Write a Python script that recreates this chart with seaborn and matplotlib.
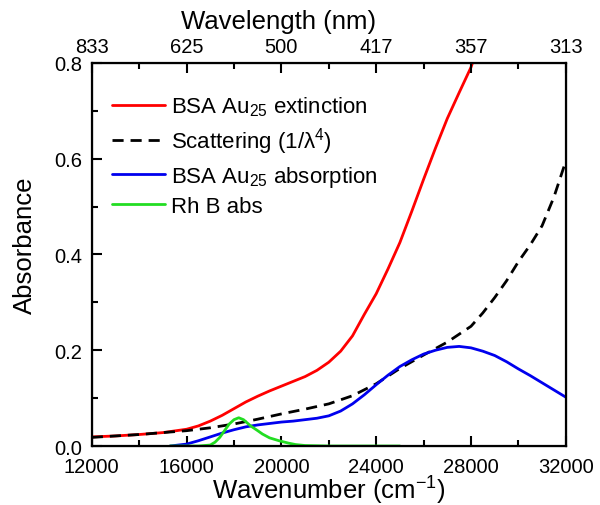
import numpy as np
import pandas as pd
import matplotlib
matplotlib.use("Agg")
import matplotlib.pyplot as plt
import seaborn as sns

# wavenumber (cm^-1) / absorbance
ext_wn = [12000, 13000, 14000, 15000, 16000, 16500, 17000, 17500, 18000, 18500,
          19000, 19500, 20000, 20500, 21000, 21500, 22000, 22500, 23000, 23500,
          24000, 24500, 25000, 25500, 26000, 26500, 27000, 27500, 28000, 28200]
ext_abs = [0.019, 0.021, 0.024, 0.028, 0.035, 0.042, 0.052, 0.064, 0.078, 0.092,
           0.104, 0.115, 0.125, 0.135, 0.145, 0.158, 0.175, 0.198, 0.230, 0.275,
           0.318, 0.370, 0.425, 0.490, 0.557, 0.622, 0.684, 0.738, 0.791, 0.820]

scat_wn = [12000, 13000, 14000, 15000, 16000, 17000, 18000, 19000, 20000, 21000,
           22000, 23000, 24000, 25000, 26000, 27000, 28000, 28500, 29000, 29500,
           30000, 30500, 31000, 31500, 32000]
scat_abs = [0.018, 0.021, 0.024, 0.028, 0.032, 0.038, 0.046, 0.056, 0.067, 0.077,
            0.088, 0.105, 0.130, 0.162, 0.190, 0.217, 0.250, 0.278, 0.310, 0.345,
            0.385, 0.420, 0.460, 0.520, 0.595]

absn_wn = [15300, 16000, 16500, 17000, 17500, 18000, 18500, 19000, 19500, 20000,
           20500, 21000, 21500, 22000, 22500, 23000, 23500, 24000, 24500, 25000,
           25500, 26000, 26500, 27000, 27500, 28000, 28500, 29000, 29500, 30000,
           30500, 31000, 31500, 32000]
absn_abs = [0.000, 0.004, 0.011, 0.019, 0.027, 0.034, 0.040, 0.044, 0.047, 0.050,
            0.052, 0.055, 0.058, 0.063, 0.073, 0.088, 0.107, 0.128, 0.148, 0.166,
            0.180, 0.192, 0.200, 0.206, 0.208, 0.205, 0.198, 0.189, 0.176, 0.161,
            0.147, 0.132, 0.117, 0.102]

rhb_wn = [15300, 16000, 16500, 17000, 17200, 17400, 17600, 17800, 18000, 18200,
          18400, 18700, 19000, 19200, 19500, 19900, 20300, 20600, 21000, 22000,
          23000, 24000, 25000]
rhb_abs = [0.000, 0.000, 0.000, 0.002, 0.008, 0.018, 0.032, 0.046, 0.055, 0.059,
           0.055, 0.042, 0.032, 0.025, 0.017, 0.011, 0.006, 0.003, 0.001, 0.000,
           0.000, 0.000, 0.000]

wn_ticks = [12000, 16000, 20000, 24000, 28000, 32000]
wl_labels = ["833", "625", "500", "417", "357", "313"]

sns.set_style("ticks")
plt.rcParams["font.family"] = ["Liberation Sans", "DejaVu Sans"]
plt.rcParams["mathtext.fontset"] = "custom"
plt.rcParams["mathtext.rm"] = "Liberation Sans"
plt.rcParams["mathtext.it"] = "Liberation Sans:italic"
for k in ["text.color", "axes.labelcolor", "axes.edgecolor", "xtick.color", "ytick.color"]:
    plt.rcParams[k] = "black"

fig = plt.figure(figsize=(6, 5.06), dpi=100)
ax = fig.add_axes([0.153, 0.1166, 0.79, 0.757])

sns.lineplot(x=ext_wn, y=ext_abs, ax=ax, color="#ff0000", lw=2,
             label=r"BSA Au$_{\mathregular{25}}$ extinction")
sns.lineplot(x=scat_wn, y=scat_abs, ax=ax, color="black", lw=2,
             linestyle=(0, (4, 2.5)), label=r"Scattering (1/λ$^{\mathregular{4}}$)")
sns.lineplot(x=absn_wn, y=absn_abs, ax=ax, color="#0000ee", lw=2,
             label=r"BSA Au$_{\mathregular{25}}$ absorption")
sns.lineplot(x=rhb_wn, y=rhb_abs, ax=ax, color="#22dd22", lw=2,
             label="Rh B abs")

ax.set_xlim(12000, 32000)
ax.set_ylim(0, 0.8)
ax.set_xticks(wn_ticks)
ax.set_xticks([14000, 18000, 22000, 26000, 30000], minor=True)
ax.set_yticks([0.0, 0.2, 0.4, 0.6, 0.8])
ax.set_yticks([0.1, 0.3, 0.5, 0.7], minor=True)
ax.set_yticklabels(["0.0", "0.2", "0.4", "0.6", "0.8"])
ax.tick_params(axis="both", which="both", direction="in", width=1.5,
               labelsize=14.5, top=False, right=False)
ax.tick_params(which="major", length=7)
ax.tick_params(which="minor", length=4)
ax.tick_params(axis="x", pad=8)
ax.tick_params(axis="y", pad=7)
for s in ax.spines.values():
    s.set_linewidth(1.6)

ax.set_xlabel(r"Wavenumber (cm$^{\mathregular{-1}}$)", fontsize=18.5)
ax.xaxis.set_label_coords(0.5, -0.072)
ax.set_ylabel("Absorbance", fontsize=18.5)
ax.yaxis.set_label_coords(-0.116, 0.527)

top = ax.twiny()
top.set_xlim(ax.get_xlim())
top.set_xticks(wn_ticks)
top.set_xticklabels(wl_labels)
top.set_xticks([14000, 18000, 22000, 26000, 30000], minor=True)
top.tick_params(axis="x", which="both", direction="in", width=1.5,
                labelsize=14.5, pad=5)
top.tick_params(which="major", length=7)
top.tick_params(which="minor", length=4)
top.set_xlabel("Wavelength (nm)", fontsize=18.5)
top.xaxis.set_label_coords(0.395, 1.09)

ax.legend(loc="upper left", bbox_to_anchor=(0.0, 0.97), frameon=False,
          fontsize=16, handlelength=2.4, handletextpad=0.25, labelspacing=0.33,
          borderaxespad=0.5)

fig.savefig("out.png", dpi=100)
